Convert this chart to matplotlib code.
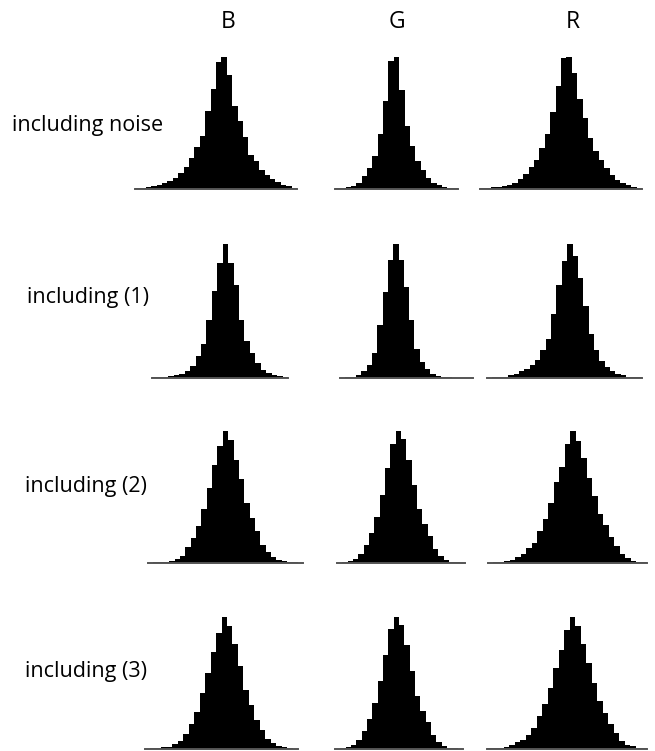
import numpy as np
import matplotlib
matplotlib.use("Agg")
import matplotlib.pyplot as plt

plt.rcParams['font.family'] = ['Open Sans', 'DejaVu Sans']

channels = ["B", "G", "R"]
conditions = ["including noise", "including (1)", "including (2)", "including (3)"]

# Histogram bin counts (arbitrary units) per condition and channel
noise_B = [2, 3, 5, 8, 12, 17, 24, 33, 48, 66, 93, 126, 160, 233, 300, 381, 396,
           343, 250, 203, 156, 103, 83, 56, 43, 30, 20, 13, 8, 4]
noise_G = [2, 3, 5, 10, 18, 38, 63, 98, 166, 263, 383, 396, 296, 188, 128, 83, 56,
           33, 18, 11, 6, 3, 2]
noise_R = [2, 3, 5, 7, 9, 12, 18, 30, 46, 66, 88, 124, 164, 231, 308, 394, 396,
           348, 270, 213, 153, 113, 88, 63, 43, 28, 18, 11, 6, 3]

c1_B = [2, 3, 4, 6, 9, 13, 20, 35, 65, 102, 175, 260, 345, 402, 345, 280, 175,
        112, 75, 45, 25, 15, 8, 5, 3]
c1_G = [1, 2, 3, 10, 20, 38, 76, 158, 256, 353, 400, 353, 273, 173, 88, 48, 26,
        13, 6, 3, 2, 1, 1, 0.5, 0.3]
c1_R = [1, 2, 2, 3, 8, 12, 20, 28, 38, 55, 85, 118, 192, 280, 352, 402, 365,
        300, 215, 132, 85, 52, 32, 20, 13, 8, 4, 3, 2]

c2_B = [1, 2, 2, 4, 6, 12, 22, 47, 75, 112, 162, 225, 295, 352, 398, 372, 312,
        252, 180, 135, 95, 55, 32, 18, 10, 5, 3, 2, 1]
c2_G = [1, 2, 6, 12, 28, 55, 90, 138, 205, 285, 360, 398, 375, 312, 235, 162,
        118, 80, 42, 20, 8, 3, 2, 1]
c2_R = [1, 2, 2, 5, 10, 18, 28, 44, 62, 97, 132, 182, 244, 292, 360, 400, 370,
        317, 257, 202, 150, 114, 80, 52, 27, 14, 7, 3, 2]

c3_B = [1, 2, 3, 5, 7, 14, 25, 45, 75, 112, 170, 228, 292, 350, 398, 372, 318,
        250, 178, 134, 88, 56, 30, 17, 10, 5, 3, 1]
c3_G = [1, 2, 6, 13, 28, 54, 90, 137, 204, 282, 360, 397, 374, 314, 234, 160,
        114, 80, 42, 22, 10, 4, 2, 1]
c3_R = [2, 2, 3, 6, 12, 20, 28, 42, 62, 98, 135, 183, 245, 297, 360, 398, 370,
        318, 258, 200, 145, 108, 75, 48, 25, 12, 8, 3, 2]

hists = [
    [noise_B, noise_G, noise_R],
    [c1_B, c1_G, c1_R],
    [c2_B, c2_G, c2_R],
    [c3_B, c3_G, c3_R],
]

W, H = 655, 751
fig = plt.figure(figsize=(W / 100, H / 100), dpi=100)

# Panel boxes in pixels: (left, right, baseline, top)
boxes = [
    [(135, 297, 189, 57), (335, 458, 189, 57), (480, 642, 189, 57)],
    [(152, 288, 378, 244), (340, 473, 378, 244), (487, 642, 378, 244)],
    [(148, 303, 563, 431), (337, 465, 563, 431), (488, 647, 563, 431)],
    [(145, 298, 749, 617), (335, 463, 749, 617), (487, 647, 749, 617)],
]

for r, row in enumerate(hists):
    for c, counts in enumerate(row):
        x0, x1, yb, yt = boxes[r][c]
        ax = fig.add_axes([x0 / W, 1 - yb / H, (x1 - x0) / W, (yb - yt) / H])
        counts = np.asarray(counts, dtype=float)
        n = len(counts)
        ax.bar(np.arange(n), counts, width=1.0, align='edge', color='black',
               linewidth=0)
        ax.axhline(0, color='#555555', lw=1.4, clip_on=False)
        ax.set_xlim(0, n)
        ax.set_ylim(0, counts.max())
        ax.axis('off')

col_x = [228, 397, 573]
for name, x in zip(channels, col_x):
    fig.text(x / W, 1 - 22 / H, name, ha='center', va='center', fontsize=16.5)

row_y = [126, 298, 487, 672]
row_x = [88, 88, 86, 86]
for name, x, y in zip(conditions, row_x, row_y):
    fig.text(x / W, 1 - y / H, name, ha='center', va='center', fontsize=15.5)

fig.savefig("out.png", dpi=100, facecolor='white')
